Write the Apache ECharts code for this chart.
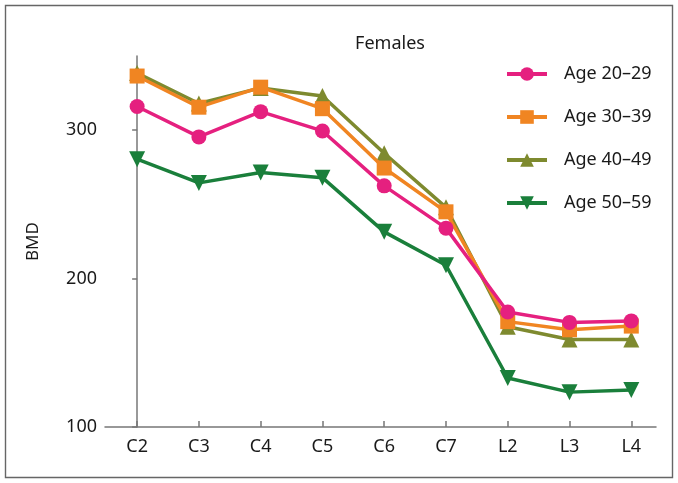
<!DOCTYPE html>
<html>
<head>
<meta charset="utf-8">
<script src="https://cdn.jsdelivr.net/npm/echarts@6/dist/echarts.min.js"></script>
<style>html,body{margin:0;padding:0;background:#fff}#c{width:678px;height:483px}</style>
</head>
<body>
<div id="c"></div>
<script>
const categories = ['C2','C3','C4','C5','C6','C7','L2','L3','L4'];
const seriesNames = ['Age 20\u201329','Age 30\u201339','Age 40\u201349','Age 50\u201359'];
const age20_29 = [316, 295.5, 312.5, 299.5, 262.5, 234, 177.5, 170.5, 171.5];
const age30_39 = [336.5, 315.5, 329, 314.5, 274.5, 245, 171, 165.5, 168];
const age40_49 = [338.5, 318, 328.5, 323, 284.5, 248, 167.5, 159, 159];
const age50_59 = [280.5, 264.5, 271.5, 268, 231.5, 209, 133, 123.5, 125];
const yTicks = [100, 200, 300];

const seriesData = [age20_29, age30_39, age40_49, age50_59];
const colors = ['#e5207f', '#f08522', '#7e8a2f', '#1a7f3b'];
const symbols = ['circle', 'rect', 'triangle', 'path://M0,0 L10,0 L5,9 Z'];
const symbolSizes = [15, 15, 16, 16];
const FONT = 'Noto Sans';

const chart = echarts.init(document.getElementById('c'), null, {renderer: 'canvas'});
chart.setOption({
  animation: false,
  backgroundColor: '#fff',
  title: {
    text: 'Females', left: 385, top: 30, textAlign: 'center',
    textStyle: {fontFamily: FONT, fontSize: 18, fontWeight: 'normal', color: '#1a1a1a'}
  },
  legend: {
    orient: 'vertical', left: 500, top: 59,
    itemWidth: 40, itemHeight: 17, itemGap: 23,
    lineStyle: {width: 4},
    textStyle: {fontFamily: FONT, fontSize: 18, color: '#1a1a1a', padding: [0,0,0,12], lineHeight: 20},
    data: seriesNames
  },
  graphic: [{
    type: 'rect', shape: {x: 5.5, y: 5.5, width: 667, height: 472},
    style: {fill: 'none', stroke: '#666', lineWidth: 1.4}, silent: true
  }],
  grid: {left: 105, right: 22, top: 56, bottom: 56, containLabel: false},
  xAxis: {
    type: 'value', min: -0.52, max: 8.4,
    axisLine: {show: true, lineStyle: {color: '#777', width: 1.5}},
    axisTick: {show: true, inside: true, length: 6, customValues: categories.map((c,i)=>i), lineStyle: {color: '#777', width: 1.5}},
    axisLabel: {customValues: categories.map((c,i)=>i), formatter: v => categories[v], margin: 11,
      fontFamily: FONT, fontSize: 18, color: '#1a1a1a'},
    splitLine: {show: false}
  },
  yAxis: {
    type: 'value', min: 100, max: 350, interval: 100,
    name: 'BMD', nameLocation: 'middle', nameGap: 63, nameRotate: 90,
    nameTextStyle: {fontFamily: FONT, fontSize: 17, color: '#1a1a1a'},
    axisLine: {show: true, lineStyle: {color: '#777', width: 1.5}},
    axisTick: {show: true, length: 5, customValues: yTicks, lineStyle: {color: '#777', width: 1.5}},
    axisLabel: {customValues: yTicks, margin: 8, fontFamily: FONT, fontSize: 18, color: '#1a1a1a'},
    splitLine: {show: false}
  },
  series: seriesData.map((d, k) => ({
    name: seriesNames[k], type: 'line',
    data: d.map((v, i) => [i, v]),
    symbol: symbols[k], symbolSize: symbolSizes[k],
    lineStyle: {color: colors[k], width: 3.5},
    itemStyle: {color: colors[k]},
    z: 10 - k
  }))
});
</script>
</body>
</html>
